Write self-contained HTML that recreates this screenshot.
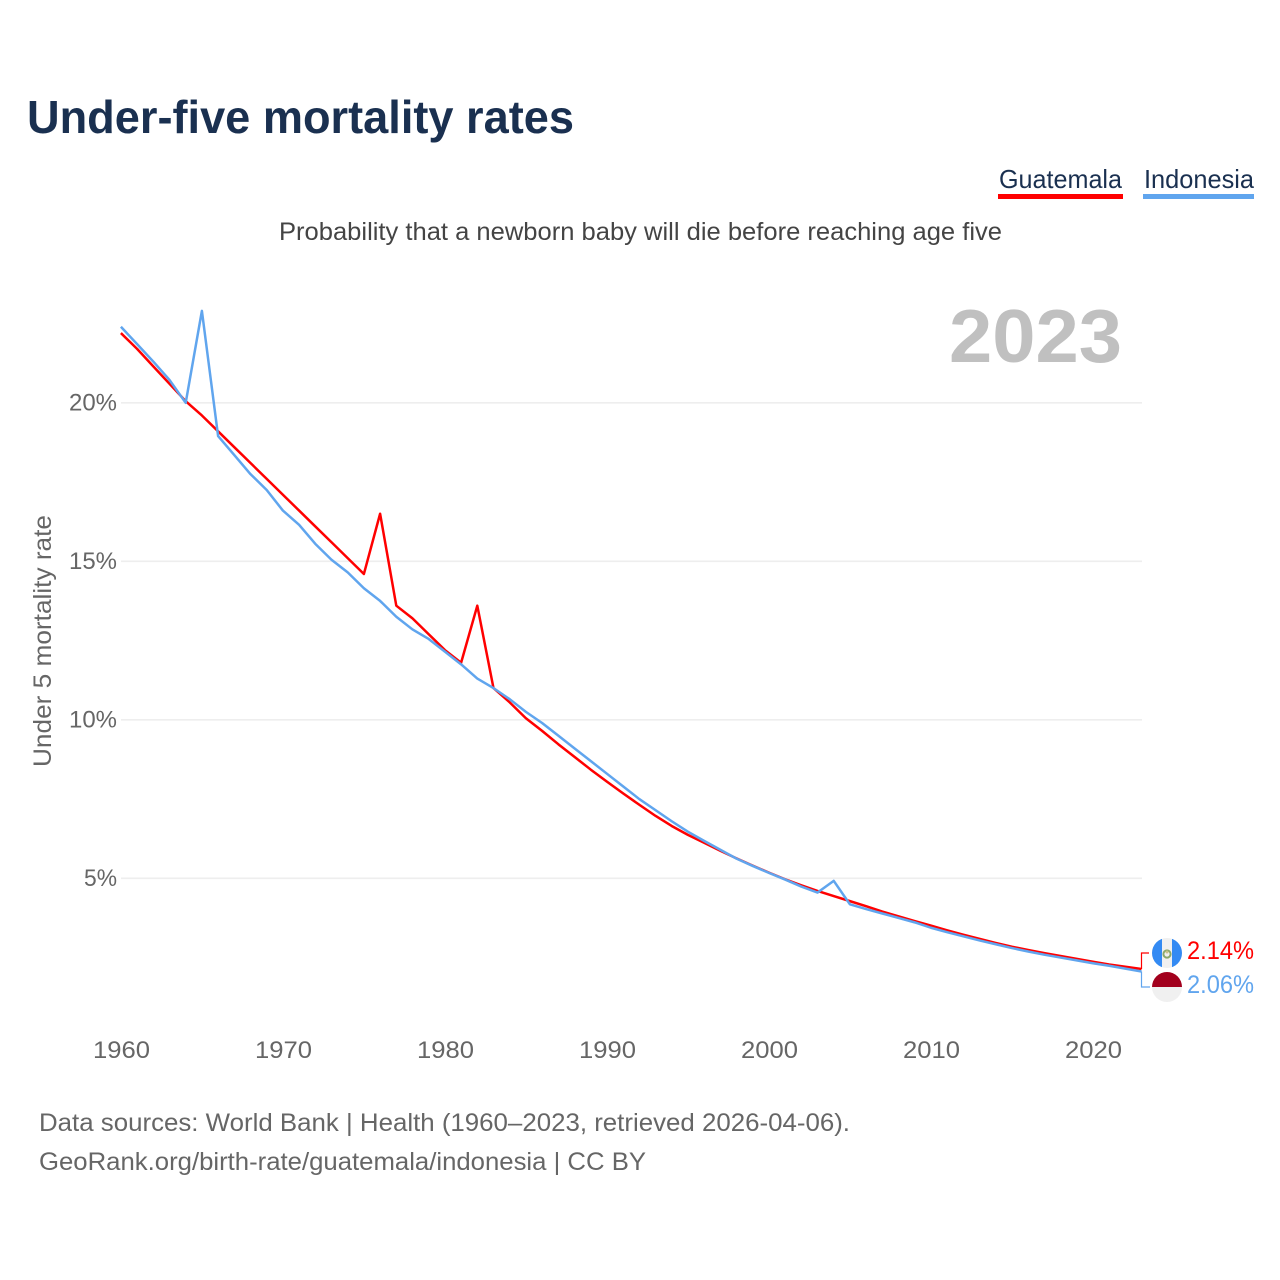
<!DOCTYPE html>
<html lang="en">
<head>
<meta charset="utf-8">
<title>Under-five mortality rates</title>
<style>
html,body{margin:0;padding:0;background:#fff;width:1280px;height:1280px;overflow:hidden}
svg{display:block}
text{font-family:"Liberation Sans",sans-serif}
</style>
</head>
<body>
<svg id="chart" width="1280" height="1280" viewBox="0 0 1280 1280" xmlns="http://www.w3.org/2000/svg">
  <text x="27" y="133" font-size="46" font-weight="700" fill="#1a3050" textLength="547" lengthAdjust="spacingAndGlyphs">Under-five mortality rates</text>
  <g>
    <text x="999" y="188" font-size="26" fill="#1a3050" textLength="123" lengthAdjust="spacingAndGlyphs">Guatemala</text>
    <rect x="998" y="194" width="125" height="5" fill="#ff0000"></rect>
  </g>
  <g>
    <text x="1144" y="188" font-size="26" fill="#1a3050" textLength="110" lengthAdjust="spacingAndGlyphs">Indonesia</text>
    <rect x="1143" y="194" width="111" height="5" fill="#60a5ee"></rect>
  </g>
  <text x="279" y="240" font-size="25" fill="#444444" textLength="723" lengthAdjust="spacingAndGlyphs">Probability that a newborn baby will die before reaching age five</text>
  <text x="949" y="362" font-size="75" font-weight="700" fill="#c0c0c0" textLength="173" lengthAdjust="spacingAndGlyphs">2023</text>
  <g id="grid"></g>
  <g id="yticks"></g>
  <g id="xticks"></g>
  <text transform="translate(51,767) rotate(-90)" font-size="25" fill="#666666" textLength="252" lengthAdjust="spacingAndGlyphs">Under 5 mortality rate</text>
  <g id="series"></g>
  <path id="conn-g" fill="none" stroke="#ff0000" stroke-width="1.2"></path>
  <path id="conn-i" fill="none" stroke="#60a5ee" stroke-width="1.2"></path>
  <g>
    <clipPath id="clip-g"><circle cx="1167" cy="953" r="15"></circle></clipPath>
    <g clip-path="url(#clip-g)">
      <rect x="1152" y="938" width="30" height="30" fill="#f0f0f0"></rect>
      <rect x="1152" y="938" width="10" height="30" fill="#338af3"></rect>
      <rect x="1172" y="938" width="10" height="30" fill="#338af3"></rect>
    </g>
    <circle cx="1167" cy="954" r="3.6" fill="none" stroke="#8aa86a" stroke-width="2"></circle>
    <circle cx="1167" cy="952" r="1.5" fill="#c9c28a"></circle>
  </g>
  <g>
    <clipPath id="clip-i"><circle cx="1167" cy="987" r="15"></circle></clipPath>
    <g clip-path="url(#clip-i)">
      <rect x="1152" y="972" width="30" height="15" fill="#a2001d"></rect>
      <rect x="1152" y="987" width="30" height="15" fill="#f0f0f0"></rect>
    </g>
  </g>
  <text id="val-g" x="1187" y="959" font-size="25" fill="#ff0000" textLength="67" lengthAdjust="spacingAndGlyphs"></text>
  <text id="val-i" x="1187" y="993" font-size="25" fill="#60a5ee" textLength="67" lengthAdjust="spacingAndGlyphs"></text>
  <text x="39" y="1131" font-size="25" fill="#666666" textLength="811" lengthAdjust="spacingAndGlyphs">Data sources: World Bank | Health (1960–2023, retrieved 2026-04-06).</text>
  <text x="39" y="1170" font-size="25" fill="#666666" textLength="607" lengthAdjust="spacingAndGlyphs">GeoRank.org/birth-rate/guatemala/indonesia | CC BY</text>
</svg>
<script>
const firstYear = 1960;
const yTickValues = [5, 10, 15, 20];
const xTickValues = [1960, 1970, 1980, 1990, 2000, 2010, 2020];
const guatemala = [22.2,21.7,21.15,20.6,20.05,19.6,19.1,18.6,18.1,17.6,17.1,16.6,16.1,15.6,15.1,14.6,16.5,13.6,13.2,12.7,12.2,11.8,13.6,11.0,10.55,10.05,9.65,9.23,8.83,8.43,8.05,7.68,7.32,6.97,6.65,6.37,6.12,5.87,5.63,5.4,5.18,4.97,4.78,4.6,4.44,4.28,4.12,3.95,3.8,3.65,3.51,3.36,3.22,3.09,2.96,2.84,2.74,2.64,2.55,2.46,2.37,2.28,2.21,2.14];
const indonesia = [22.4,21.85,21.3,20.72,20.0,22.9,18.95,18.35,17.75,17.25,16.6,16.15,15.55,15.05,14.65,14.15,13.75,13.25,12.85,12.55,12.15,11.75,11.3,11.0,10.65,10.25,9.9,9.5,9.1,8.7,8.3,7.9,7.5,7.15,6.8,6.47,6.18,5.9,5.62,5.39,5.17,4.96,4.74,4.55,4.92,4.18,4.03,3.89,3.75,3.61,3.44,3.30,3.17,3.04,2.92,2.80,2.69,2.59,2.50,2.41,2.32,2.24,2.15,2.06];
const guatemalaEndLabel = "2.14%";
const indonesiaEndLabel = "2.06%";

const NS = "http://www.w3.org/2000/svg";
function xScale(year) { return 120.9 + (year - 1960) * 16.2; }
function yScale(v) { return 1036.8 - v * 31.7; }

const grid = document.getElementById("grid");
const yticks = document.getElementById("yticks");
const xticks = document.getElementById("xticks");
const series = document.getElementById("series");

yTickValues.forEach(function (v) {
  const line = document.createElementNS(NS, "line");
  
  
  line.setAttribute("x1", 121);
  line.setAttribute("x2", 1142);
  line.setAttribute("y1", yScale(v));
  line.setAttribute("y2", yScale(v));
  line.setAttribute("stroke", "#eeeeee");
  line.setAttribute("stroke-width", "1.6");
  grid.appendChild(line);

  const label = v + "%";
  const t = document.createElementNS(NS, "text");
  
  
  t.setAttribute("x", 117);
  t.setAttribute("y", yScale(v) + 7.5);
  t.setAttribute("text-anchor", "end");
  t.setAttribute("font-size", "24");
  t.setAttribute("fill", "#666666");
  t.setAttribute("textLength", 3 + 15 * label.length);
  t.setAttribute("lengthAdjust", "spacingAndGlyphs");
  t.textContent = label;
  yticks.appendChild(t);
});

xTickValues.forEach(function (year) {
  const t = document.createElementNS(NS, "text");
  
  
  t.setAttribute("x", xScale(year) - 27.9);
  t.setAttribute("y", 1058);
  t.setAttribute("font-size", "24");
  t.setAttribute("fill", "#666666");
  t.setAttribute("textLength", 57);
  t.setAttribute("lengthAdjust", "spacingAndGlyphs");
  t.textContent = String(year);
  xticks.appendChild(t);
});

function pathFor(values) {
  return values.map(function (v, i) {
    return (i ? "L" : "M") + xScale(firstYear + i).toFixed(2) + " " + yScale(v).toFixed(2);
  }).join(" ");
}

const redLine = document.createElementNS(NS, "path");


redLine.setAttribute("d", pathFor(guatemala));
redLine.setAttribute("fill", "none");
redLine.setAttribute("stroke", "#ff0000");
redLine.setAttribute("stroke-width", "2.5");
redLine.setAttribute("stroke-linejoin", "round");
series.appendChild(redLine);

const blueLine = document.createElementNS(NS, "path");


blueLine.setAttribute("d", pathFor(indonesia));
blueLine.setAttribute("fill", "none");
blueLine.setAttribute("stroke", "#60a5ee");
blueLine.setAttribute("stroke-width", "2.5");
blueLine.setAttribute("stroke-linejoin", "round");
series.appendChild(blueLine);

const lastG = guatemala[guatemala.length - 1];
const lastI = indonesia[indonesia.length - 1];
const endX = xScale(firstYear + guatemala.length - 1);
document.getElementById("conn-g").setAttribute("d", "M" + endX + " " + yScale(lastG) + " V953 H1149");
document.getElementById("conn-i").setAttribute("d", "M" + endX + " " + yScale(lastI) + " V987 H1150");
document.getElementById("val-g").textContent = guatemalaEndLabel;
document.getElementById("val-i").textContent = indonesiaEndLabel;
</script>
</body>
</html>
